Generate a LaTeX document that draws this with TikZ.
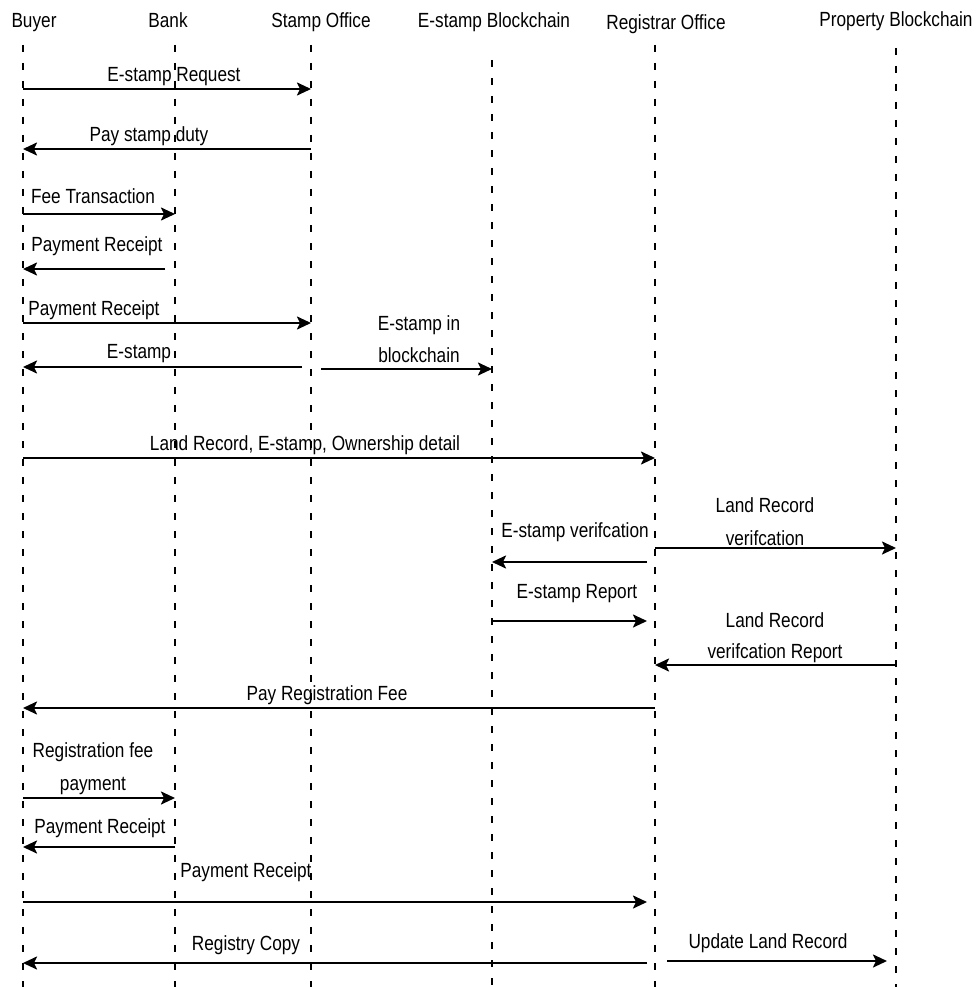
\documentclass[tikz,border=0pt]{standalone}
\usepackage{fontspec}
\setmainfont[FakeStretch=0.84]{Liberation Sans}
\usetikzlibrary{arrows.meta,positioning,calc}

\begin{document}
\begin{tikzpicture}[x=1pt,y=-1pt,
    font=\fontsize{20.5}{24}\selectfont,
    hdr/.style={anchor=base,inner sep=0pt},
    lbl/.style={anchor=base,align=center,inner sep=0pt},
    life/.style={line width=1.2pt,dash pattern=on 7pt off 11pt},
    msg/.style={line width=2.2pt,-{Stealth[length=14pt,width=13pt,inset=3pt]}}]
  \useasboundingbox (0,0) rectangle (977,987);

  % participants
  \node[hdr] (hBuyer) at (34,28)  {Buyer};
  \node[hdr] (hBank)  at (168,28) {Bank};
  \node[hdr] (hStamp) at (321,28) {Stamp Office};
  \node[hdr] (hEbc)   at (494,28) {E-stamp Blockchain};
  \node[hdr] (hReg)   at (666,30) {Registrar Office};
  \node[hdr] (hPbc)   at (896,27) {Property Blockchain};

  % lifelines
  \coordinate (buyer) at (23,45);
  \coordinate (bank)  at (175,45);
  \coordinate (stamp) at (311,45);
  \coordinate (ebc)   at (492,60);
  \coordinate (reg)   at (655,45);
  \coordinate (pbc)   at (896,48);
  \foreach \p in {buyer,bank,stamp,ebc,reg,pbc}
    \draw[life] (\p) -- (\p |- 0,987);

  % stamp duty
  \draw[msg] (buyer |- 0,89) -- (stamp |- 0,89);
  \node[lbl] (m1) at (174,82) {E-stamp Request};
  \draw[msg] (stamp |- 0,149) -- (buyer |- 0,149);
  \node[lbl] (m2) at (149,142) {Pay stamp duty};
  \draw[msg] (buyer |- 0,214) -- (bank |- 0,214);
  \node[lbl] (m3) at (93,204) {Fee Transaction};
  \draw[msg] ([xshift=-10pt]bank |- 0,269) -- (buyer |- 0,269);
  \node[lbl] (m4) at (97,251) {Payment Receipt};
  \draw[msg] (buyer |- 0,323) -- (stamp |- 0,323);
  \node[lbl] (m5) at (94,315) {Payment Receipt};
  \draw[msg] ([xshift=-9pt]stamp |- 0,367) -- (buyer |- 0,367);
  \node[lbl] (m6) at (139,358) {E-stamp};
  \draw[msg] ([xshift=10pt]stamp |- 0,369) -- (ebc |- 0,369);
  \node[lbl] (m7) at (419,362) {E-stamp in\\[8pt]blockchain};

  % registration
  \draw[msg] (buyer |- 0,458) -- (reg |- 0,458);
  \node[lbl] (m8) at (305,450) {Land Record, E-stamp, Ownership detail};
  \draw[msg] ([xshift=-8pt]reg |- 0,562) -- (ebc |- 0,562);
  \node[lbl] (m9) at (575,537) {E-stamp verifcation};
  \draw[msg] (reg |- 0,548) -- (pbc |- 0,548);
  \node[lbl] (m10) at (765,545) {Land Record\\[9pt]verifcation};
  \draw[msg] (ebc |- 0,621) -- ([xshift=-8pt]reg |- 0,621);
  \node[lbl] (m11) at (577,598) {E-stamp Report};
  \draw[msg] (pbc |- 0,665) -- (reg |- 0,665);
  \node[lbl] (m12) at (775,658) {Land Record\\[7pt]verifcation Report};
  \draw[msg] (reg |- 0,708) -- (buyer |- 0,708);
  \node[lbl] (m13) at (327,700) {Pay Registration Fee};

  % fee and copy
  \draw[msg] (buyer |- 0,798) -- (bank |- 0,798);
  \node[lbl] (m14) at (93,790) {Registration fee\\[9pt]payment};
  \draw[msg] (bank |- 0,847) -- (buyer |- 0,847);
  \node[lbl] (m15) at (100,833) {Payment Receipt};
  \draw[msg] (buyer |- 0,902) -- ([xshift=-8pt]reg |- 0,902);
  \node[lbl] (m16) at (246,877) {Payment Receipt};
  \draw[msg] ([xshift=-8pt]reg |- 0,963) -- (buyer |- 0,963);
  \node[lbl] (m17) at (246,950) {Registry Copy};
  \draw[msg] ([xshift=12pt]reg |- 0,961) -- ([xshift=-9pt]pbc |- 0,961);
  \node[lbl] (m18) at (768,948) {Update Land Record};
\end{tikzpicture}
\end{document}
